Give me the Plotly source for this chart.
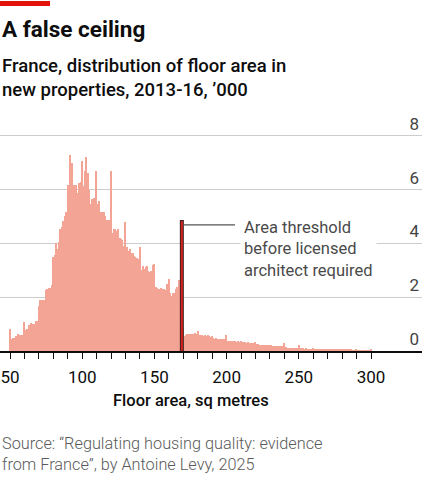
import plotly.graph_objects as go

# floor area bins, sq metres (one bar per square metre)
area = list(range(50, 301))

# new properties per bin, '000
counts = [
    0.80, 0.43, 0.48, 0.50, 0.54, 0.56, 0.62, 0.59, 0.58, 0.59,
    1.08, 0.77, 0.83, 0.95, 0.86, 1.05, 1.00, 1.02, 1.10, 1.10,
    1.67, 1.90, 1.90, 1.77, 1.90, 2.28, 2.32, 2.36, 2.36, 2.46,
    3.50, 3.58, 4.02, 3.78, 4.05, 4.52, 4.62, 4.83, 5.03, 5.18,
    6.18, 6.18, 7.30, 7.00, 6.18, 6.18, 6.18, 5.88, 6.25, 6.27,
    7.08, 6.12, 6.70, 7.22, 6.62, 5.98, 5.48, 5.65, 5.68, 5.38,
    6.68, 5.48, 5.57, 5.18, 5.18, 5.18, 5.01, 4.88, 4.77, 4.88,
    6.68, 4.39, 4.54, 4.52, 4.48, 4.54, 4.20, 4.15, 4.12, 3.92,
    4.79, 3.88, 3.71, 3.78, 3.65, 3.65, 3.53, 3.50, 3.47, 3.43,
    3.88, 3.01, 3.16, 3.06, 3.13, 3.16, 2.97, 2.94, 2.98, 3.18,
    3.22, 2.39, 2.36, 2.32, 2.32, 2.36, 2.29, 2.29, 2.26, 2.48,
    2.67, 2.17, 2.05, 2.17, 2.15, 2.29, 2.39, 2.65, 2.48, 2.58,
    0.90,
    0.57, 0.59, 0.63, 0.63, 0.63, 0.65, 0.63, 0.67, 0.63, 0.73,
    0.60, 0.59, 0.60, 0.57, 0.59, 0.56, 0.58, 0.54, 0.53, 0.54,
    0.48, 0.46, 0.48, 0.45, 0.45, 0.43, 0.45, 0.43, 0.40, 0.59,
    0.38, 0.39, 0.37, 0.38, 0.36, 0.37, 0.35, 0.36, 0.34, 0.38,
    0.35, 0.33, 0.34, 0.31, 0.32, 0.30, 0.31, 0.29, 0.30, 0.32,
    0.26, 0.25, 0.24, 0.24, 0.23, 0.23, 0.22, 0.21, 0.22, 0.24,
    0.21, 0.20, 0.20, 0.19, 0.20, 0.19, 0.19, 0.18, 0.19, 0.29,
    0.14, 0.13, 0.13, 0.13, 0.12, 0.13, 0.12, 0.12, 0.11, 0.22,
    0.10, 0.10, 0.10, 0.09, 0.10, 0.09, 0.09, 0.08, 0.08, 0.11,
    0.07, 0.07, 0.07, 0.07, 0.06, 0.07, 0.06, 0.06, 0.06, 0.09,
    0.06, 0.05, 0.06, 0.05, 0.05, 0.06, 0.05, 0.05, 0.04, 0.07,
    0.04, 0.04, 0.04, 0.04, 0.04, 0.04, 0.03, 0.03, 0.03, 0.06,
    0.03, 0.03, 0.03, 0.03, 0.02, 0.03, 0.02, 0.02, 0.02, 0.05,
]

x_ticks = [50, 100, 150, 200, 250, 300]
x_minor = [v for v in range(60, 300, 10) if v % 50]
y_ticks = [0, 2, 4, 6, 8]

threshold_line = 169      # where the ceiling line is drawn
threshold_top = 4.87
label_text = "Area threshold<br>before licensed<br>architect required"

# pixel layout: plot bottom at 351.5, 27px per unit
YMAX = 9.0
H = YMAX * 27
TOP = 351.5 - H


def py(p):
    # canvas pixel row -> paper y
    return (351.5 - p) / H


fig = go.Figure()
fig.add_trace(go.Bar(x=area, y=counts, marker_color="#F4A495",
                     marker_line_width=0, hoverinfo="skip"))

# ceiling line: dark outline, red core, plus callout leg
fig.add_shape(type="line", x0=threshold_line, x1=threshold_line, y0=0, y1=threshold_top,
              line=dict(color="#3a2222", width=4))
fig.add_shape(type="line", x0=threshold_line, x1=threshold_line, y0=0, y1=threshold_top - 0.04,
              line=dict(color="#D6201B", width=2))
fig.add_shape(type="line", x0=threshold_line + 0.8, x1=205.8, y0=4.69, y1=4.69,
              line=dict(color="#555555", width=1.3))

fig.add_annotation(x=209.3, y=3.78, xref="x", yref="y", text=label_text,
                   showarrow=False, xanchor="left", yanchor="middle", align="left",
                   bgcolor="white", borderpad=3,
                   font=dict(family="Roboto", size=16.5, color="#4a4a4a"))

# red tab top left
fig.add_shape(type="rect", xref="paper", yref="paper", x0=0, x1=50 / 422,
              y0=py(5), y1=py(0), fillcolor="#E3120B", line_width=0)

fig.add_annotation(x=0, y=py(28), xref="paper", yref="paper", text="<b>A false ceiling</b>",
                   showarrow=False, xanchor="left", yanchor="middle",
                   font=dict(family="Roboto", size=22.5, color="#0d0d0d"))
fig.add_annotation(x=0, y=py(77), xref="paper", yref="paper",
                   text="France, distribution of floor area in<br>new properties, 2013-16, ’000",
                   showarrow=False, xanchor="left", yanchor="middle", align="left",
                   font=dict(family="Roboto", size=18.5, color="#0d0d0d", weight=500))
fig.add_annotation(x=175, y=py(401), xref="x", yref="paper", text="Floor area, sq metres",
                   showarrow=False, xanchor="center", yanchor="middle",
                   font=dict(family="Roboto", size=16.5, color="#0d0d0d", weight=500))
fig.add_annotation(x=0, y=py(455), xref="paper", yref="paper",
                   text="Source: “Regulating housing quality: evidence<br>from France”, by Antoine Levy, 2025",
                   showarrow=False, xanchor="left", yanchor="middle", align="left",
                   font=dict(family="Roboto", size=16.3, color="#5a5a5a", weight=300))

fig.update_layout(
    width=422, height=480,
    margin=dict(l=0, r=0, t=TOP, b=480 - 351.5, pad=0),
    paper_bgcolor="white", plot_bgcolor="white",
    showlegend=False, bargap=0, hovermode=False,
    font=dict(family="Roboto", color="#0d0d0d"),
)
fig.update_xaxes(
    range=[43.07, 335.3], tickvals=x_ticks, ticks="outside", ticklen=6, tickwidth=1.2,
    tickcolor="#0d0d0d", showline=True, linecolor="#0d0d0d", linewidth=1.6,
    showgrid=False, zeroline=False, tickfont=dict(size=17), ticklabelstandoff=4,
    minor=dict(tickvals=x_minor, ticks="outside", ticklen=6, tickwidth=1.2, tickcolor="#0d0d0d"),
)
fig.update_yaxes(
    range=[0, YMAX], tickvals=y_ticks, side="right", ticklabelposition="inside top",
    showgrid=True, gridcolor="#cccccc", gridwidth=1, zeroline=False, showline=False,
    ticks="", tickfont=dict(size=17),
)

# page body margin would push the figure 8px right/down
fig.write_html("out.html", config={"displayModeBar": False},
               post_script="document.body.style.margin='0';")
